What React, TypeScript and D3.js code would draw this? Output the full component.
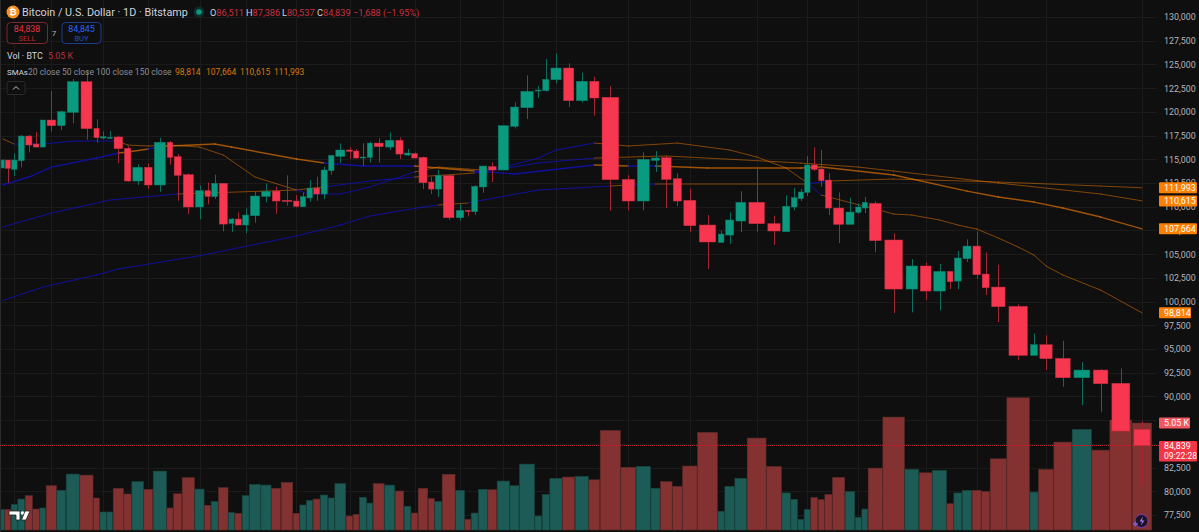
import * as React from 'react';
import * as d3 from 'd3';

// one entry per session, oldest first
const opens = [114080,114920,113940,114850,117450,116610,116290,119140,118540,119950,123180,118260,117240,117210,117350,116150,112710,114150,112290,116790,115270,113380,109970,111690,111060,112460,108240,108700,108070,109050,111090,111650,110670,110600,110000,110920,111970,111340,113800,115310,115980,115870,115170,115200,116710,116290,117000,115450,115590,115200,112600,111860,113270,108840,109610,109470,112080,114220,113870,118470,120440,122200,122230,123390,124620,121180,123220,121530,112880,110600,114890,115170,112950,110670,108070,106240,107010,108490,110460,108210,107370,109970,110850,111510,114400,113970,112810,109860,108140,109400,109860,110350,106490,101320,103750,101110,103180,102160,104520,105850,102900,101530,99490,94330,95450,94010,91970,92780,91380,86511];
const highs = [115000,114920,115630,117560,117560,117880,119140,122200,120120,123460,124310,119210,117950,117980,117490,116400,114470,114570,117280,116930,115560,113520,112250,112570,113380,112460,108810,109400,109830,111580,112460,112110,113310,111230,111510,112810,113160,114220,115410,116680,116260,116080,116680,116860,117210,117840,117310,116080,115730,115270,113160,113870,113450,110280,109650,112290,114290,114680,118540,121000,123850,122720,125570,126170,125110,124130,123710,122700,113340,115730,115870,115340,113520,111900,109120,107470,109400,111620,114040,109050,111200,111970,111860,115340,116260,115980,113520,111510,110950,110350,111020,110560,107190,104480,104100,103960,103180,105330,106560,107400,105190,103890,99700,96650,96440,95870,93620,92890,92960,87386];
const lows = [114080,112530,113240,114150,115730,116290,116290,117910,118090,118790,117070,116750,117100,117140,114570,112640,112290,111870,111580,114430,110630,109230,108670,110250,110810,107400,107330,108070,107190,108320,110460,109260,110110,109930,110000,110530,110630,110810,113380,114610,115030,115100,114290,114640,114640,115980,115030,115340,115130,111860,111340,111020,108600,108560,108980,109120,111480,112600,113870,118260,119250,121460,122130,123010,120510,120970,119600,109580,109620,109620,113660,109860,110070,107330,103430,106240,106070,107330,107370,105960,107370,109620,110600,111130,113760,112110,109120,106170,108140,109260,109330,105220,98790,98860,100130,99070,101320,101320,104170,102380,100690,97840,93830,94330,92780,91020,89090,88380,85850,80537];
const closes = [114920,114040,114920,117450,116500,116290,119140,118540,120020,123180,118230,117280,117380,117310,116120,112710,114150,112290,116790,115200,113310,109970,111690,111090,112460,108170,108700,108070,109120,111130,111620,110600,110560,110040,111060,111970,111340,113870,115410,115980,115840,115130,115240,116710,116330,117000,115550,115660,115130,112530,111860,113310,108840,109610,109510,112150,114290,113870,118540,120510,122160,122300,123430,124620,121180,123220,121460,112850,110600,114990,115130,112880,110600,108000,106280,107120,108600,110460,108210,107440,110040,110950,111550,114400,113940,112740,109860,108140,109440,109970,110460,106420,101320,103750,101110,103180,102090,104590,105850,102830,101460,99460,94330,95450,93980,91970,92780,91340,86350,84839];
const volumes = [0.96,0.96,1.21,1.46,1.62,0.99,1.04,2.09,1.87,2.64,2.59,1.51,0.85,0.85,1.97,1.70,2.28,1.92,2.78,1.04,1.71,2.47,1.93,1.16,1.34,2.00,0.82,0.79,1.62,2.15,2.12,1.97,2.25,0.79,1.18,1.40,1.46,1.65,1.51,2.19,0.66,0.74,1.54,1.27,2.19,2.12,1.84,1.12,0.80,1.97,1.49,1.34,2.63,1.87,0.50,0.80,1.92,1.90,2.31,2.09,3.11,0.66,1.68,2.44,2.50,2.53,2.37,4.70,2.96,3.00,1.97,2.28,2.06,3.02,4.61,0.88,2.06,2.44,4.34,3.00,1.75,1.45,0.50,0.97,1.53,1.43,1.68,2.48,1.81,0.60,0.99,2.92,5.33,2.86,2.70,2.81,1.24,1.75,1.87,1.87,1.81,3.36,6.24,1.79,2.86,4.15,4.75,3.77,5.19,5.05];

// moving averages, read at the sessions listed in the *Slots arrays (1-based)
const sma20Slots = [1,3,7,10,15,16,18,20,23,26,30,34,36,40,44,49,52,55,57,59,62,64,67,69,73,77,79,81,84,86,89,92,93,94,96,98,99,100,102,103,104,105,106,108,110];
const sma20Values = [117140,116610,116610,116920,116920,116500,116400,116500,116290,115450,113130,111760,111340,111340,112080,113660,114180,113970,113870,114180,115130,115980,116710,116400,116710,115980,115240,114080,112500,111230,110440,109760,109230,109120,108600,108070,107860,107650,106700,105750,104900,103750,102800,101210,98814];
const sma20Blue = [[3,15],[34,49],[57,67],[84,86]];
const sma50Slots = [1,5,8,12,15,16,18,19,20,25,27,34,38,43,49,56,60,67,69,71,75,83,86,93,99,102,104,106,108,110];
const sma50Values = [112290,113130,114180,115130,115660,115770,116080,116290,116400,116610,116290,115030,114610,114290,114290,113760,113450,114400,114290,114290,114080,114080,114180,113340,111650,111020,110490,109860,108910,107664];
const sma50Blue = [[1,15],[18,19],[38,49],[56,67],[69,71]];
const sma100Slots = [1,8,14,21,34,38,44,49,56,62,67,72,80,83,90,93,102,108,110];
const sma100Values = [107860,109330,110700,111340,111760,112080,112710,113130,113550,114610,115130,115350,114760,114600,114180,113760,112500,111340,110615];
const sma100Blue = [[1,21],[38,49],[56,67]];
const sma150Slots = [1,7,12,15,23,34,40,44,50,52,55,57,62,68,69,71,72,84,87,93,102,108,110];
const sma150Values = [100110,101530,102800,103430,104830,106910,108070,109020,109970,110180,110390,110700,111760,112180,112290,112390,112390,112390,112710,112920,112600,112180,111993];
const sma150Blue = [[1,52],[55,68],[69,71],[84,87]];

const priceTicks = d3.range(77500, 130001, 2500);
const hiddenTickLabels = [85000, 87500];
const gridSlots = [3,8,13,18,23,29,34,41,49,54,59,64,69,74,79,84,90,95,100,105,110];
const lastLabels = [111993, 110615, 107664, 98814];

// the chart is equivolume-like, every session has its own width (thirds of a px)
const slotSpans = [12,19,20,22,23,21,19,32,28,41,41,19,21,19,32,24,36,28,41,20,26,38,29,20,22,30,19,22,22,34,32,29,36,20,20,20,22,23,20,34,21,19,22,19,34,32,27,21,21,30,20,22,40,28,19,22,28,28,38,29,46,22,23,38,38,41,34,62,46,44,29,36,30,45,61,21,30,37,58,46,27,21,19,20,22,20,23,38,30,20,19,44,66,43,40,43,21,25,30,28,26,50,69,26,46,55,59,54,67,60];

const BG = '#0f0f0f';
const GRID = '#1b1b1b';
const RED = '#f7374f';
const GREEN = '#0a9a80';
const ORANGE = '#ff8000';
const FONT = 'Roboto, sans-serif';
const AXIS_SIZE = 8.9;

const W = 1199;
const H = 532;

export default function App() {
  const ref = React.useRef<SVGGElement>(null);

  React.useEffect(() => {
    if (!ref.current) { return; }
    const svg = d3.select(ref.current);
    svg.selectAll('*').remove();

    const edges = [0, ...d3.cumsum(slotSpans)].map(e => (e + 2) / 3);
    const x = d3.scaleLinear().domain(d3.range(edges.length)).range(edges);
    const xMid = (slot: number) => x(slot - 0.5);
    const y = d3.scaleLinear().domain([77500, 130000]).range([515, 17]);
    const yVol = d3.scaleLinear().domain([0, 5.05]).range([530, 423]);
    const idx = d3.range(closes.length);
    const up = (i: number) => closes[i] >= opens[i];

    // grid
    const grid = svg.append('g').attr('stroke', GRID).attr('stroke-width', 1);
    grid.selectAll('line.h').data(priceTicks).enter().append('line')
      .attr('x1', 0).attr('x2', 1157)
      .attr('y1', d => Math.round(y(d)) + 0.5).attr('y2', d => Math.round(y(d)) + 0.5);
    grid.selectAll('line.v').data(gridSlots).enter().append('line')
      .attr('y1', 0).attr('y2', 530)
      .attr('x1', d => Math.round(xMid(d)) + 0.5).attr('x2', d => Math.round(xMid(d)) + 0.5);
    svg.append('line').attr('x1', 0.5).attr('x2', 0.5).attr('y1', 0).attr('y2', H).attr('stroke', '#2a2a2a');

    // volume
    svg.append('g').selectAll('rect').data(idx).enter().append('rect')
      .attr('x', i => x(i) + 0.2)
      .attr('width', i => x(i + 1) - x(i) - 0.5)
      .attr('y', i => yVol(volumes[i]))
      .attr('height', i => 530 - yVol(volumes[i]))
      .attr('fill', i => up(i) ? '#1d5c56' : '#843231')
      .attr('stroke', i => up(i) ? '#17463f' : '#5c2a2a')
      .attr('stroke-width', 0.6);

    // moving averages, coloured run by run
    const drawSma = (slots: number[], values: number[], blue: number[][], width: number) => {
      const line = d3.line<number>().x(i => xMid(slots[i])).y(i => y(values[i]));
      d3.range(slots.length - 1).forEach(i => {
        const isBlue = blue.some(r => r[0] <= slots[i] && slots[i + 1] <= r[1]);
        svg.append('path')
          .attr('d', line([i, i + 1]))
          .attr('fill', 'none')
          .attr('stroke', isBlue ? '#1010c0' : ORANGE)
          .attr('stroke-opacity', isBlue ? 0.8 : (width > 1 ? 0.6 : 0.48))
          .attr('stroke-linecap', 'round')
          .attr('stroke-width', width);
      });
    };
    drawSma(sma150Slots, sma150Values, sma150Blue, 1);
    drawSma(sma100Slots, sma100Values, sma100Blue, 1);
    drawSma(sma50Slots, sma50Values, sma50Blue, 1.4);
    drawSma(sma20Slots, sma20Values, sma20Blue, 1);

    // last price line
    const last = closes[closes.length - 1];
    svg.append('line')
      .attr('x1', 0).attr('x2', 1159)
      .attr('y1', Math.round(y(last)) + 0.5).attr('y2', Math.round(y(last)) + 0.5)
      .attr('stroke', '#b3262f').attr('stroke-dasharray', '1 1');

    // candles
    const candles = svg.append('g').selectAll('g').data(idx).enter().append('g');
    candles.append('line')
      .attr('x1', i => Math.round(xMid(i + 1)) + 0.5)
      .attr('x2', i => Math.round(xMid(i + 1)) + 0.5)
      .attr('y1', i => y(highs[i]))
      .attr('y2', i => y(lows[i]))
      .attr('stroke', i => up(i) ? '#0b6e5e' : '#a32632');
    candles.append('rect')
      .attr('x', i => xMid(i + 1) - (x(i + 1) - x(i)) * 0.4)
      .attr('width', i => (x(i + 1) - x(i)) * 0.8)
      .attr('y', i => y(Math.max(opens[i], closes[i])))
      .attr('height', i => Math.max(1, Math.abs(y(opens[i]) - y(closes[i]))))
      .attr('fill', i => up(i) ? GREEN : RED)
      .attr('stroke', i => up(i) ? '#0c7c69' : '#c72e43')
      .attr('stroke-width', 0.5);

    // price axis
    const axis = svg.append('g')
      .attr('transform', 'translate(1158,0)')
      .call(d3.axisRight(y)
        .tickValues(priceTicks.filter(t => !hiddenTickLabels.includes(t)))
        .tickSize(0).tickPadding(6).tickFormat(d3.format(',') as any));
    axis.select('.domain').remove();
    axis.selectAll('text').attr('fill', '#b2b5be').attr('font-family', FONT).attr('font-size', AXIS_SIZE);

    // value tags on the axis
    const fmt = d3.format(',');
    const tags = svg.append('g').selectAll('g').data(lastLabels).enter().append('g');
    tags.append('rect')
      .attr('x', 1159).attr('y', d => y(d) - 5.5)
      .attr('width', d => d < 100000 ? 32 : 38).attr('height', 11).attr('rx', 1)
      .attr('fill', '#ff8000');
    tags.append('text')
      .attr('x', 1164).attr('y', d => y(d) + 3.2)
      .attr('fill', '#fff').attr('font-family', FONT).attr('font-size', AXIS_SIZE)
      .text(d => fmt(d));

    const volTag = svg.append('g');
    volTag.append('rect')
      .attr('x', 1159).attr('y', yVol(5.05) - 5.5).attr('width', 31).attr('height', 11).attr('rx', 1)
      .attr('fill', '#f2575f');
    volTag.append('text')
      .attr('x', 1164).attr('y', yVol(5.05) + 3.2)
      .attr('fill', '#fff').attr('font-family', FONT).attr('font-size', AXIS_SIZE)
      .text('5.05 K');

    const priceTag = svg.append('g');
    priceTag.append('rect')
      .attr('x', 1159).attr('y', y(last) - 4.5).attr('width', 38).attr('height', 20.5).attr('rx', 1)
      .attr('fill', '#f23645');
    priceTag.append('text')
      .attr('x', 1164).attr('y', y(last) + 4)
      .attr('fill', '#fff').attr('font-family', FONT).attr('font-size', AXIS_SIZE)
      .text(fmt(last));
    priceTag.append('text')
      .attr('x', 1164).attr('y', y(last) + 13.5)
      .attr('fill', '#fff').attr('font-family', FONT).attr('font-size', 8.6)
      .text('09:22:28');
  }, []);

  const label = { fontFamily: FONT, fontSize: 8.9 };
  const redText = '#c9303f';
  return (
    <svg width={W} height={H} style={{ position: 'absolute', left: 0, top: 0, background: BG }}>
      <g ref={ref} />
      {/* legend block */}
      <circle cx={13} cy={12} r={6.5} fill="#f7931a" />
      <text x={13} y={15} textAnchor="middle" fontFamily={FONT} fontSize={9} fontWeight={700} fill="#fff">₿</text>
      <text x={22} y={15.5} fontFamily={FONT} fontSize={10.8} fill="#d1d4dc">Bitcoin / U.S. Dollar · 1D · Bitstamp</text>
      <circle cx={199} cy={12} r={5.5} fill="#0d2d29" />
      <circle cx={199} cy={12} r={2.8} fill="#089981" />
      <text y={15.5} {...label} fontSize={9.2} fill="#d1d4dc">
        <tspan x={210}>O</tspan><tspan fill={redText}>86,511</tspan>
        <tspan x={246}>H</tspan><tspan fill={redText}>87,386</tspan>
        <tspan x={282}>L</tspan><tspan fill={redText}>80,537</tspan>
        <tspan x={317}>C</tspan><tspan fill={redText}>84,839</tspan>
        <tspan x={353} fill={redText}>−1,688 (−1.95%)</tspan>
      </text>
      <rect x={7} y={22.5} width={40.5} height={21} rx={3.5} fill={BG} stroke="#7a2730" />
      <text x={27} y={32} textAnchor="middle" {...label} fill="#e8303f">84,838</text>
      <text x={27} y={41} textAnchor="middle" {...label} fontSize={7.6} fill="#b52a37">SELL</text>
      <text x={54} y={36} textAnchor="middle" {...label} fontSize={8} fill="#b2b5be">7</text>
      <rect x={62} y={22.5} width={39} height={21} rx={3.5} fill={BG} stroke="#1d3c8f" />
      <text x={81.5} y={32} textAnchor="middle" {...label} fill="#2962ff">84,845</text>
      <text x={81.5} y={41} textAnchor="middle" {...label} fontSize={7.6} fill="#2450c8">BUY</text>
      <text x={7} y={58.5} {...label} fill="#d1d4dc">Vol · BTC</text>
      <text x={48} y={58.5} {...label} fill="#b5323c">5.05 K</text>
      <text x={7} y={74.5} {...label} fontSize={7.9} fill="#d1d4dc">SMAs</text>
      <text x={28} y={74.5} {...label} fontSize={8.5} fill="#8a8d96">20 close 50 close 100 close 150 close</text>
      <text x={175} y={74.5} {...label} fontSize={8.5} fill="#d9780c">98,814</text>
      <text x={206} y={74.5} {...label} fontSize={8.5} fill="#d9780c">107,664</text>
      <text x={240} y={74.5} {...label} fontSize={8.5} fill="#d9780c">110,615</text>
      <text x={274} y={74.5} {...label} fontSize={8.5} fill="#d9780c">111,993</text>
      <rect x={7} y={81.5} width={18} height={13} rx={2} fill={BG} stroke="#2a2a2a" />
      <path d="M13 89.5l3-3 3 3" fill="none" stroke="#c8c8c8" />
      {/* TV mark */}
      <path d="M9 511h11v9h-4v-5h-7z" fill="#fff" stroke="#222" strokeWidth={0.8} />
      <circle cx={22.5} cy={513} r={1.8} fill="#fff" />
      <path d="M25 511h5l-4 9h-4.5z" fill="#fff" stroke="#222" strokeWidth={0.8} />
      {/* assistant badge */}
      <circle cx={1141.5} cy={521} r={6.5} fill="#1c1226" stroke="#6d3fb0" />
      <path d="M1143 516.5l-3.5 5h2.5l-1 4 3.5-5h-2.5z" fill="#a875e8" />
      <path d="M1133 524h5M1135.5 521.5v5" stroke="#7a5cf0" strokeWidth={1.4} />
    </svg>
  );
}
